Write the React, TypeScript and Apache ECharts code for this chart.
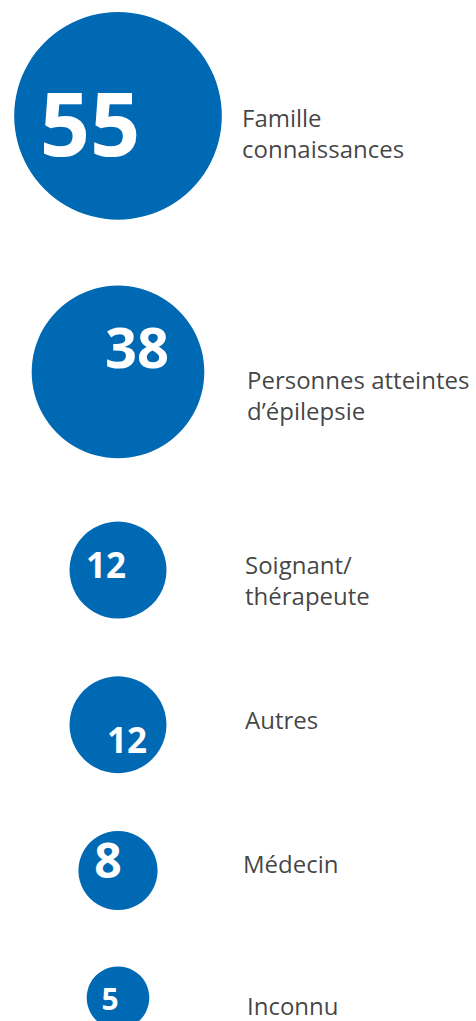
import React, { useEffect, useRef } from "react";
import * as echarts from "echarts";

// ---- data ----
const categories: string[] = [
  "Famille\nconnaissances",
  "Personnes atteintes\nd’épilepsie",
  "Soignant/\nthérapeute",
  "Autres",
  "Médecin",
  "Inconnu",
];
const values: number[] = [55, 38, 12, 12, 8, 5];

// ---- style (label sizes / nudges) ----
const numberFontSizes = [88, 56, 35, 35, 48, 30];
const numberOffsets: [number, number][] = [
  [-28, 6],
  [19, -26],
  [-12, -6],
  [9, 15],
  [-10, -11],
  [-8, 1],
];
const nameOffsets: [number, number][] = [
  [124, 17],
  [129, 23],
  [127, 10],
  [127, -5],
  [125, -7],
  [129, 8],
];

const W = 476;
const H = 1021;
const BLUE = "#0069B4";
const CENTER_X = 118;
const TOP_Y = 12;

const diameter = (v: number) => 28 * Math.sqrt(v);

// stacked layout: each bubble placed below the previous one with a gap
function layoutY(vals: number[]): number[] {
  const ys: number[] = [];
  let top = TOP_Y;
  vals.forEach((v, i) => {
    const d = diameter(v);
    if (i > 0) {
      const prevD = diameter(vals[i - 1]);
      top += 50.4 + 0.075 * Math.max(prevD, d);
    }
    ys.push(top + d / 2);
    top += d;
  });
  return ys;
}

export default function App() {
  const ref = useRef<HTMLDivElement>(null);
  useEffect(() => {
    if (!ref.current) return;
    const chart = echarts.init(ref.current, null, { renderer: "svg" });
    const ys = layoutY(values);

    const bubbleData = values.map((v, i) => ({
      name: categories[i],
      value: [CENTER_X, ys[i], v],
      symbolSize: diameter(v),
      label: {
        show: true,
        position: "inside",
        formatter: String(v),
        color: "#ffffff",
        fontFamily: "'Open Sans', sans-serif",
        fontWeight: "bold",
        fontSize: numberFontSizes[i],
        offset: numberOffsets[i],
      },
    }));

    const nameData = values.map((v, i) => ({
      name: categories[i],
      value: [CENTER_X, ys[i], v],
      label: {
        show: true,
        position: "inside",
        formatter: categories[i],
        align: "left",
        verticalAlign: "middle",
        color: "#111111",
        fontFamily: "'Open Sans', sans-serif",
        fontWeight: "normal",
        fontSize: 24,
        lineHeight: 31,
        offset: nameOffsets[i],
      },
    }));

    chart.setOption({
      animation: false,
      grid: { left: 0, right: 0, top: 0, bottom: 0 },
      xAxis: { type: "value", min: 0, max: W, show: false },
      yAxis: { type: "value", min: 0, max: H, inverse: true, show: false },
      series: [
        {
          type: "scatter",
          data: bubbleData,
          itemStyle: { color: BLUE, opacity: 1 },
          clip: false,
          z: 2,
        },
        {
          type: "scatter",
          data: nameData,
          symbolSize: 1,
          itemStyle: { color: "rgba(0,0,0,0)" },
          clip: false,
          z: 3,
        },
      ],
    });
    return () => chart.dispose();
  }, []);
  return (
    <div
      ref={ref}
      style={{ position: "fixed", left: 0, top: 0, width: W, height: H, background: "#fff" }}
    />
  );
}
